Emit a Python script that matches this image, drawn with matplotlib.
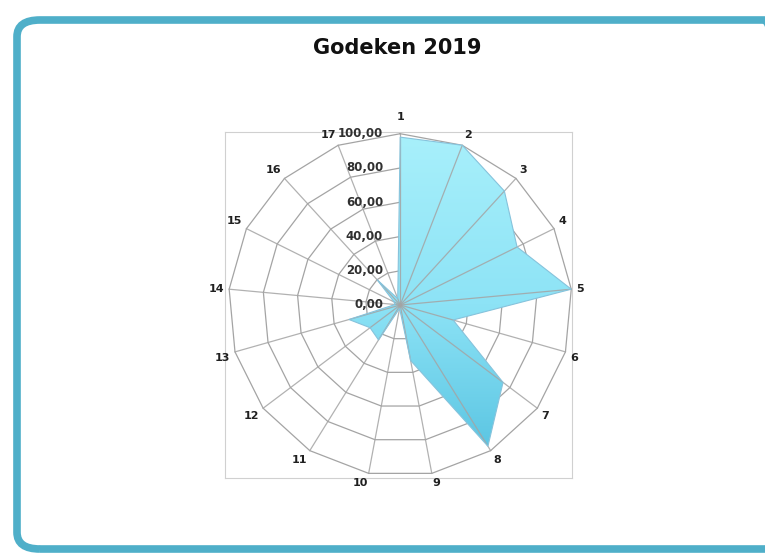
import matplotlib.pyplot as plt
import numpy as np
from matplotlib.patches import FancyBboxPatch, Polygon

# data
categories = [str(i) for i in range(1, 18)]
values = [98, 100, 90, 76, 100, 32, 75, 97, 33, 2, 24, 22, 31, 3, 4, 20, 4]
levels = [0, 20, 40, 60, 80, 100]
level_labels = ['0,00', '20,00', '40,00', '60,00', '80,00', '100,00']

fig = plt.figure(figsize=(7.65, 5.55), dpi=100)

# rounded blue frame round the chart
frame = FancyBboxPatch((17 / 765, 6 / 555), 770 / 765, 529 / 555,
                       boxstyle='round,pad=0,rounding_size=0.03',
                       transform=fig.transFigure, facecolor='none',
                       edgecolor='#4FAFC9', linewidth=5.5, zorder=0)
fig.patches.append(frame)

fig.text(0.519, 0.913, 'Godeken 2019', ha='center', va='center',
         fontsize=15, fontweight='bold', color='#111111')

ax = fig.add_axes([225 / 765, 77 / 555, 347 / 765, 346 / 555])
ax.set_zorder(2)
ax.set_xlim(-102, 100)
ax.set_ylim(-101, 101)
ax.set_xticks([])
ax.set_yticks([])
for s in ax.spines.values():
    s.set_color('#D0D0D0')
    s.set_linewidth(0.8)

n = len(categories)
ang = np.arange(n) * 2 * np.pi / n
dx = np.sin(ang)
dy = np.cos(ang)

# polygon grid (rings under the area, spokes over it)
for lv in levels[1:]:
    ax.plot(np.append(dx, dx[0]) * lv, np.append(dy, dy[0]) * lv,
            color='#A4A4A4', linewidth=0.9, zorder=1)
for i in range(n):
    ax.plot([0, dx[i] * 100], [0, dy[i] * 100], color='#A4A4A4',
            linewidth=0.9, zorder=3, alpha=0.85)

# data area with a soft vertical gradient
v = np.array(values)
pts = np.column_stack([dx * v, dy * v])
poly = Polygon(pts, closed=True, facecolor='none', edgecolor='#86C3DC',
               linewidth=0.8, zorder=4)
ax.add_patch(poly)
grad = np.linspace(0, 1, 256).reshape(-1, 1)
cmap = plt.matplotlib.colors.LinearSegmentedColormap.from_list(
    'fill', ['#A8F0FB', '#8DE3F6', '#52C0DF'])
img = ax.imshow(grad, extent=[-100, 100, -100, 100], origin='upper',
                cmap=cmap, aspect='auto', zorder=2)
img.set_clip_path(poly)

# category labels, placed just outside the outer ring
for i in range(n):
    r = 103 + 4 * (dy[i] > 0.99)
    ha = 'left' if dx[i] > 0.1 else ('right' if dx[i] < -0.1 else 'center')
    va = 'bottom' if dy[i] > 0.1 else ('top' if dy[i] < -0.1 else 'center')
    ax.text(dx[i] * r, dy[i] * r, categories[i], ha=ha, va=va,
            fontsize=8, fontweight='bold', color='#202020')

# value labels along the first axis
for lv, lab in zip(levels, level_labels):
    ax.text(-10, lv, lab, ha='right', va='center', fontsize=8.5,
            fontweight='bold', color='#303030', zorder=5)

fig.savefig('out.png', dpi=100)
